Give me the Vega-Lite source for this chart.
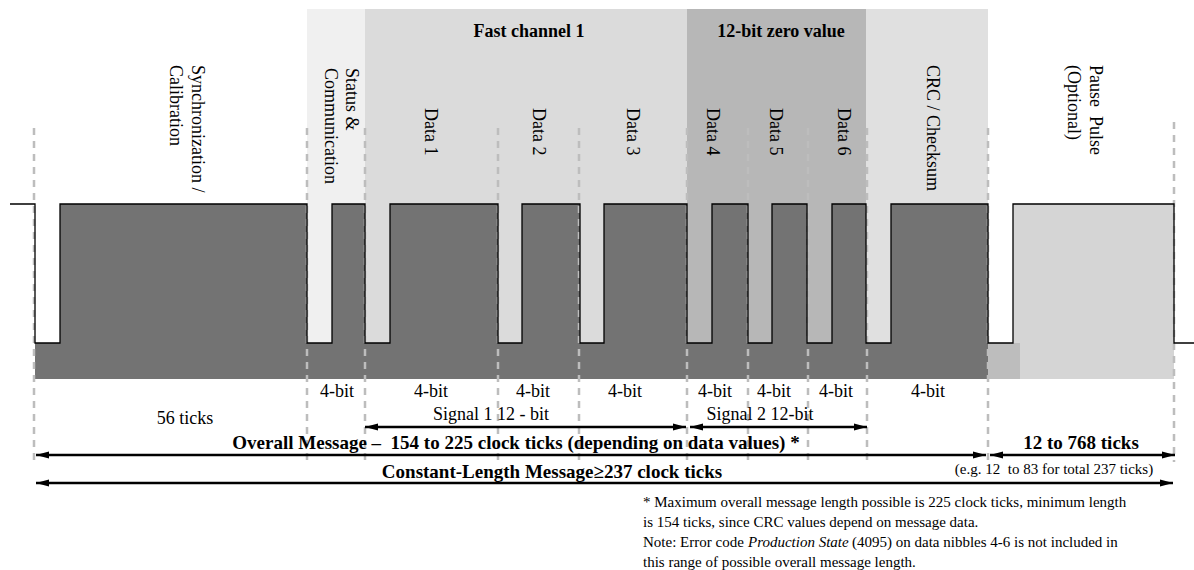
{
  "$schema": "https://vega.github.io/schema/vega-lite/v6.json",
  "width": 1194,
  "height": 570,
  "padding": 0,
  "autosize": {"type": "none"},
  "background": "white",
  "config": {"view": {"stroke": null}, "font": "Liberation Serif"},
  "datasets": {
    "regions": [
      {"kind": "status", "x1": 307, "x2": 365, "y1": 9, "y2": 343},
      {"kind": "fast", "x1": 365, "x2": 687, "y1": 9, "y2": 343},
      {"kind": "zero", "x1": 687, "x2": 866, "y1": 9, "y2": 343},
      {"kind": "crc", "x1": 866, "x2": 988, "y1": 9, "y2": 343},
      {"kind": "dark", "x1": 35, "x2": 988, "y1": 343, "y2": 379},
      {"kind": "dark", "x1": 60, "x2": 307, "y1": 204, "y2": 379},
      {"kind": "dark", "x1": 332, "x2": 365, "y1": 204, "y2": 379},
      {"kind": "dark", "x1": 390, "x2": 498, "y1": 204, "y2": 379},
      {"kind": "dark", "x1": 522, "x2": 580, "y1": 204, "y2": 379},
      {"kind": "dark", "x1": 604, "x2": 687, "y1": 204, "y2": 379},
      {"kind": "dark", "x1": 712, "x2": 748, "y1": 204, "y2": 379},
      {"kind": "dark", "x1": 772, "x2": 807, "y1": 204, "y2": 379},
      {"kind": "dark", "x1": 832, "x2": 866, "y1": 204, "y2": 379},
      {"kind": "dark", "x1": 891, "x2": 988, "y1": 204, "y2": 379},
      {"kind": "pause", "x1": 1013, "x2": 1174, "y1": 204, "y2": 379},
      {"kind": "hatch", "x1": 988, "x2": 1020, "y1": 343, "y2": 379}
    ],
    "signal": [
      {"i": 1, "x": 10, "y": 204}, {"i": 2, "x": 35, "y": 204}, {"i": 3, "x": 35, "y": 343}, {"i": 4, "x": 60, "y": 343},
      {"i": 5, "x": 60, "y": 204}, {"i": 6, "x": 307, "y": 204}, {"i": 7, "x": 307, "y": 343}, {"i": 8, "x": 332, "y": 343},
      {"i": 9, "x": 332, "y": 204}, {"i": 10, "x": 365, "y": 204}, {"i": 11, "x": 365, "y": 343}, {"i": 12, "x": 390, "y": 343},
      {"i": 13, "x": 390, "y": 204}, {"i": 14, "x": 498, "y": 204}, {"i": 15, "x": 498, "y": 343}, {"i": 16, "x": 522, "y": 343},
      {"i": 17, "x": 522, "y": 204}, {"i": 18, "x": 580, "y": 204}, {"i": 19, "x": 580, "y": 343}, {"i": 20, "x": 604, "y": 343},
      {"i": 21, "x": 604, "y": 204}, {"i": 22, "x": 687, "y": 204}, {"i": 23, "x": 687, "y": 343}, {"i": 24, "x": 712, "y": 343},
      {"i": 25, "x": 712, "y": 204}, {"i": 26, "x": 748, "y": 204}, {"i": 27, "x": 748, "y": 343}, {"i": 28, "x": 772, "y": 343},
      {"i": 29, "x": 772, "y": 204}, {"i": 30, "x": 807, "y": 204}, {"i": 31, "x": 807, "y": 343}, {"i": 32, "x": 832, "y": 343},
      {"i": 33, "x": 832, "y": 204}, {"i": 34, "x": 866, "y": 204}, {"i": 35, "x": 866, "y": 343}, {"i": 36, "x": 891, "y": 343},
      {"i": 37, "x": 891, "y": 204}, {"i": 38, "x": 988, "y": 204}, {"i": 39, "x": 988, "y": 343}, {"i": 40, "x": 1013, "y": 343},
      {"i": 41, "x": 1013, "y": 204}, {"i": 42, "x": 1174, "y": 204}, {"i": 43, "x": 1174, "y": 343}, {"i": 44, "x": 1194, "y": 343}
    ],
    "dividers": [
      {"x": 34, "y1": 128, "y2": 462}, {"x": 307, "y1": 128, "y2": 462}, {"x": 365, "y1": 128, "y2": 462},
      {"x": 498, "y1": 128, "y2": 462}, {"x": 579, "y1": 128, "y2": 462}, {"x": 687, "y1": 128, "y2": 462},
      {"x": 748, "y1": 128, "y2": 462}, {"x": 808, "y1": 128, "y2": 462}, {"x": 867, "y1": 128, "y2": 462},
      {"x": 988, "y1": 128, "y2": 462}, {"x": 1174, "y1": 122, "y2": 462}
    ],
    "arrows": [
      {"name": "Signal 1", "x1": 365, "x2": 686, "y": 427},
      {"name": "Signal 2", "x1": 690, "x2": 867, "y": 427},
      {"name": "Overall", "x1": 36, "x2": 986, "y": 455},
      {"name": "Pause", "x1": 990, "x2": 1175, "y": 455},
      {"name": "Constant", "x1": 36, "x2": 1173, "y": 483}
    ],
    "labels": [
      {"g": "vert", "text": "Synchronization /", "x": 197, "y": 65},
      {"g": "vert", "text": "Calibration", "x": 175, "y": 65},
      {"g": "vert", "text": "Status &", "x": 351, "y": 68},
      {"g": "vert", "text": "Communication", "x": 330, "y": 68},
      {"g": "vert", "text": "Data 1", "x": 430, "y": 108},
      {"g": "vert", "text": "Data 2", "x": 538, "y": 108},
      {"g": "vert", "text": "Data 3", "x": 632, "y": 108},
      {"g": "vert", "text": "Data 4", "x": 712, "y": 108},
      {"g": "vert", "text": "Data 5", "x": 775, "y": 108},
      {"g": "vert", "text": "Data 6", "x": 843, "y": 108},
      {"g": "vert", "text": "CRC / Checksum", "x": 932, "y": 65},
      {"g": "vert", "text": "Pause\u00a0 Pulse", "x": 1095, "y": 65},
      {"g": "vert", "text": "(Optional)", "x": 1073, "y": 65},
      {"g": "title", "text": "Fast channel 1", "x": 529, "y": 32},
      {"g": "title", "text": "12-bit zero value", "x": 781, "y": 32},
      {"g": "body", "text": "4-bit", "x": 337, "y": 392},
      {"g": "body", "text": "4-bit", "x": 431, "y": 392},
      {"g": "body", "text": "4-bit", "x": 533, "y": 392},
      {"g": "body", "text": "4-bit", "x": 625, "y": 392},
      {"g": "body", "text": "4-bit", "x": 715, "y": 392},
      {"g": "body", "text": "4-bit", "x": 774, "y": 392},
      {"g": "body", "text": "4-bit", "x": 836, "y": 392},
      {"g": "body", "text": "4-bit", "x": 928, "y": 392},
      {"g": "body", "text": "56 ticks", "x": 185, "y": 419},
      {"g": "body", "text": "Signal 1 12 - bit", "x": 491, "y": 415},
      {"g": "body", "text": "Signal 2 12-bit", "x": 760, "y": 415},
      {"g": "bold", "text": "Overall Message \u2013\u00a0 154 to 225 clock ticks (depending on data values) *", "x": 516, "y": 443},
      {"g": "bold", "text": "12 to 768 ticks", "x": 1081, "y": 443},
      {"g": "bold", "text": "Constant-Length Message\u2265237 clock ticks", "x": 552, "y": 472},
      {"g": "small", "text": "(e.g. 12\u00a0 to 83 for total 237 ticks)", "x": 1054, "y": 469},
      {"g": "note", "text": "* Maximum overall message length possible is 225 clock ticks, minimum length", "x": 643, "y": 502},
      {"g": "note", "text": "is 154 ticks, since CRC values depend on message data.", "x": 643, "y": 522},
      {"g": "note", "text": "Note: Error code", "x": 643, "y": 542},
      {"g": "italic", "text": "Production State", "x": 748, "y": 542},
      {"g": "note", "text": "(4095) on data nibbles 4-6 is not included in", "x": 852, "y": 542},
      {"g": "note", "text": "this range of possible overall message length.", "x": 643, "y": 562}
    ]
  },
  "layer": [
    {
      "data": {"name": "regions"},
      "mark": {"type": "rect"},
      "encoding": {
        "x": {"field": "x1", "type": "quantitative", "scale": {"domain": [0, 1194], "nice": false, "zero": false}, "axis": null},
        "x2": {"field": "x2"},
        "y": {"field": "y1", "type": "quantitative", "scale": {"domain": [0, 570], "nice": false, "zero": false, "reverse": true}, "axis": null},
        "y2": {"field": "y2"},
        "color": {"field": "kind", "type": "nominal", "legend": null,
          "scale": {"domain": ["status", "fast", "zero", "crc", "dark", "pause", "hatch"],
                    "range": ["#f0f0f0", "#dbdbdb", "#b7b7b7", "#e0e0e0", "#737373", "#d5d5d5", "#bdbdbd"]}}
      }
    },
    {
      "data": {"name": "dividers"},
      "mark": {"type": "rule", "color": "#bdbdbd", "strokeWidth": 2.5, "strokeDash": [7, 6]},
      "encoding": {
        "x": {"field": "x", "type": "quantitative", "axis": null},
        "y": {"field": "y1", "type": "quantitative", "axis": null},
        "y2": {"field": "y2"}
      }
    },
    {
      "data": {"name": "signal"},
      "mark": {"type": "line", "color": "black", "strokeWidth": 1.3},
      "encoding": {
        "x": {"field": "x", "type": "quantitative", "axis": null},
        "y": {"field": "y", "type": "quantitative", "axis": null},
        "order": {"field": "i", "type": "quantitative"}
      }
    },
    {
      "data": {"name": "arrows"},
      "mark": {"type": "rule", "color": "black", "strokeWidth": 2.5},
      "encoding": {
        "x": {"field": "x1", "type": "quantitative", "axis": null},
        "x2": {"field": "x2"},
        "y": {"field": "y", "type": "quantitative", "axis": null}
      }
    },
    {
      "data": {"name": "arrows"},
      "transform": [{"fold": ["x1", "x2"], "as": ["end", "xe"]}],
      "mark": {"type": "point", "filled": true, "color": "black", "opacity": 1, "size": 100, "strokeWidth": 0},
      "encoding": {
        "x": {"field": "xe", "type": "quantitative", "axis": null},
        "y": {"field": "y", "type": "quantitative", "axis": null},
        "shape": {"field": "end", "type": "nominal", "legend": null,
          "scale": {"domain": ["x1", "x2"], "range": ["M0,0L2.6,-0.7L2.6,0.7Z", "M0,0L-2.6,-0.7L-2.6,0.7Z"]}}
      }
    },
    {
      "data": {"name": "labels"},
      "transform": [{"filter": "datum.g === 'vert'"}],
      "mark": {"type": "text", "angle": 90, "align": "left", "baseline": "middle", "font": "Liberation Serif", "fontSize": 18, "color": "black"},
      "encoding": {
        "x": {"field": "x", "type": "quantitative", "axis": null},
        "y": {"field": "y", "type": "quantitative", "axis": null},
        "text": {"field": "text"}
      }
    },
    {
      "data": {"name": "labels"},
      "transform": [{"filter": "datum.g === 'title'"}],
      "mark": {"type": "text", "align": "center", "baseline": "middle", "font": "Liberation Serif", "fontSize": 18, "fontWeight": "bold", "color": "black"},
      "encoding": {
        "x": {"field": "x", "type": "quantitative", "axis": null},
        "y": {"field": "y", "type": "quantitative", "axis": null},
        "text": {"field": "text"}
      }
    },
    {
      "data": {"name": "labels"},
      "transform": [{"filter": "datum.g === 'body'"}],
      "mark": {"type": "text", "align": "center", "baseline": "middle", "font": "Liberation Serif", "fontSize": 18, "color": "black"},
      "encoding": {
        "x": {"field": "x", "type": "quantitative", "axis": null},
        "y": {"field": "y", "type": "quantitative", "axis": null},
        "text": {"field": "text"}
      }
    },
    {
      "data": {"name": "labels"},
      "transform": [{"filter": "datum.g === 'bold'"}],
      "mark": {"type": "text", "align": "center", "baseline": "middle", "font": "Liberation Serif", "fontSize": 19, "fontWeight": "bold", "color": "black"},
      "encoding": {
        "x": {"field": "x", "type": "quantitative", "axis": null},
        "y": {"field": "y", "type": "quantitative", "axis": null},
        "text": {"field": "text"}
      }
    },
    {
      "data": {"name": "labels"},
      "transform": [{"filter": "datum.g === 'small'"}],
      "mark": {"type": "text", "align": "center", "baseline": "middle", "font": "Liberation Serif", "fontSize": 15, "color": "black"},
      "encoding": {
        "x": {"field": "x", "type": "quantitative", "axis": null},
        "y": {"field": "y", "type": "quantitative", "axis": null},
        "text": {"field": "text"}
      }
    },
    {
      "data": {"name": "labels"},
      "transform": [{"filter": "datum.g === 'note'"}],
      "mark": {"type": "text", "align": "left", "baseline": "middle", "font": "Liberation Serif", "fontSize": 15, "color": "black"},
      "encoding": {
        "x": {"field": "x", "type": "quantitative", "axis": null},
        "y": {"field": "y", "type": "quantitative", "axis": null},
        "text": {"field": "text"}
      }
    },
    {
      "data": {"name": "labels"},
      "transform": [{"filter": "datum.g === 'italic'"}],
      "mark": {"type": "text", "align": "left", "baseline": "middle", "font": "Liberation Serif", "fontSize": 15, "fontStyle": "italic", "color": "black"},
      "encoding": {
        "x": {"field": "x", "type": "quantitative", "axis": null},
        "y": {"field": "y", "type": "quantitative", "axis": null},
        "text": {"field": "text"}
      }
    }
  ]
}
